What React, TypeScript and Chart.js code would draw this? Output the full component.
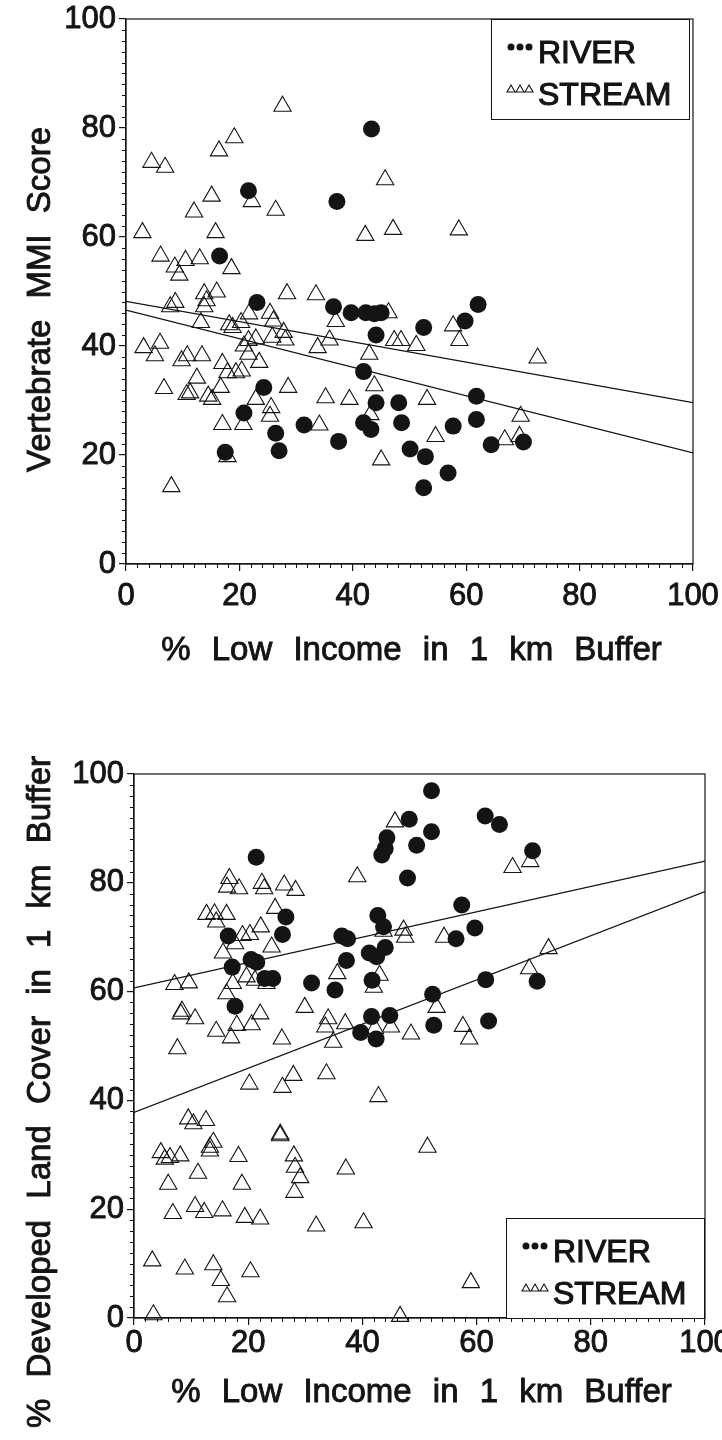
import React, { useEffect, useRef } from 'react';
import { Chart, registerables } from 'chart.js';

Chart.register(...registerables);

const FONT = '"Liberation Sans", Arial, Helvetica, sans-serif';
const INK = '#141414';

// ---- Chart 1: Vertebrate MMI Score vs % Low Income ----
const riverX1 = [43.3, 21.6, 37.2, 16.5, 23.1, 36.6, 39.7, 42.3, 43.8, 45.0, 52.5, 44.1, 41.9, 24.3, 44.1, 48.1, 20.8, 31.4, 41.9, 43.2, 48.6, 26.4, 37.5, 50.1, 17.5, 27.0, 52.8, 62.1, 59.8, 61.8, 61.8, 57.7, 64.4, 70.1, 56.8, 52.5];
const riverY1 = [79.8, 68.5, 66.5, 56.5, 48.0, 47.2, 46.1, 46.1, 45.9, 46.1, 43.4, 42.0, 35.3, 32.4, 29.6, 29.6, 27.7, 25.5, 25.9, 24.7, 25.9, 24.0, 22.5, 21.1, 20.5, 20.8, 19.7, 47.6, 44.6, 30.8, 26.5, 25.3, 21.9, 22.4, 16.7, 14.0];
const streamX1 = [27.6, 19.1, 16.4, 45.7, 4.5, 6.9, 22.2, 15.1, 12.0, 26.4, 2.9, 15.8, 42.2, 47.1, 58.7, 6.1, 8.6, 9.4, 10.5, 13.0, 18.6, 8.7, 7.8, 13.8, 16.0, 14.2, 13.8, 28.4, 33.5, 37.0, 46.3, 13.2, 21.7, 25.4, 26.0, 20.3, 18.2, 18.8, 27.8, 28.1, 25.8, 22.9, 21.6, 35.9, 33.8, 47.3, 48.5, 51.2, 3.1, 6.0, 5.1, 9.8, 10.8, 13.4, 20.8, 21.6, 17.0, 23.5, 17.9, 19.4, 20.4, 42.9, 12.5, 6.7, 10.7, 11.3, 14.5, 15.2, 16.7, 22.9, 28.6, 35.2, 39.4, 43.8, 53.1, 43.1, 25.6, 25.4, 17.0, 20.7, 34.1, 17.9, 45.0, 8.0, 57.7, 58.8, 72.6, 69.6, 54.6, 66.8, 69.4];
const streamY1 = [84.0, 78.2, 75.8, 70.5, 73.7, 72.8, 66.5, 67.5, 64.6, 64.9, 60.8, 60.8, 60.3, 61.4, 61.3, 56.5, 54.5, 53.0, 55.7, 56.0, 54.2, 48.0, 47.2, 49.6, 49.9, 48.3, 47.2, 49.6, 49.4, 44.5, 46.1, 44.3, 45.9, 46.0, 44.6, 44.3, 43.9, 43.4, 42.5, 41.1, 41.6, 41.3, 41.0, 41.1, 39.7, 41.0, 41.0, 40.1, 39.7, 40.5, 38.2, 37.3, 38.2, 38.2, 40.0, 38.5, 36.8, 37.0, 35.1, 35.1, 35.4, 38.5, 34.1, 32.2, 31.1, 31.4, 30.8, 30.2, 32.4, 30.2, 32.4, 30.5, 30.2, 32.7, 30.2, 27.4, 28.7, 27.1, 25.6, 25.6, 25.5, 19.7, 19.1, 14.2, 43.7, 41.0, 37.8, 27.1, 23.4, 22.8, 23.4];
const fitX = [0, 100];
const fitUpperY1 = [48.2, 29.6];
const fitLowerY1 = [46.6, 20.4];

// ---- Chart 2: % Developed Land Cover vs % Low Income ----
const riverX2 = [48.2, 44.3, 49.5, 44.0, 43.4, 21.4, 47.9, 26.6, 26.0, 16.5, 20.5, 21.5, 17.2, 22.9, 24.3, 17.7, 36.4, 37.4, 42.7, 43.7, 44.0, 41.2, 42.5, 37.2, 41.7, 31.1, 35.2, 41.6, 44.8, 39.7, 42.4, 52.1, 52.1, 61.5, 64.0, 69.8, 57.4, 59.7, 56.4, 70.6, 61.6, 52.3, 52.5, 62.1];
const riverY2 = [91.7, 88.3, 86.9, 86.3, 85.1, 84.7, 80.9, 73.7, 70.5, 70.2, 65.9, 65.4, 64.5, 62.4, 62.4, 57.3, 70.2, 69.7, 74.0, 71.9, 68.1, 67.1, 66.4, 65.7, 62.1, 61.6, 60.3, 55.4, 55.6, 52.5, 51.3, 96.9, 89.4, 92.3, 90.7, 85.9, 75.9, 71.7, 69.7, 61.9, 62.2, 59.5, 53.8, 54.6];
const streamX2 = [45.7, 39.1, 16.7, 16.3, 18.4, 22.4, 22.8, 26.3, 28.3, 12.7, 14.1, 16.2, 14.4, 24.7, 19.0, 20.3, 22.2, 17.7, 24.1, 15.6, 19.7, 21.2, 23.2, 7.1, 9.6, 17.3, 16.2, 8.4, 8.2, 10.7, 18.0, 22.1, 20.6, 14.4, 17.0, 25.9, 7.6, 43.7, 47.2, 47.5, 35.6, 43.0, 42.0, 29.9, 34.0, 33.5, 37.0, 42.2, 45.0, 34.9, 48.5, 69.4, 66.3, 54.3, 72.6, 69.2, 53.0, 57.6, 58.7, 20.2, 26.0, 27.9, 33.7, 42.8, 9.5, 10.4, 12.6, 25.6, 25.6, 13.9, 13.3, 13.3, 4.7, 5.4, 6.3, 8.1, 18.3, 28.0, 28.2, 29.1, 28.1, 37.1, 11.2, 6.0, 18.9, 6.8, 10.7, 12.3, 15.5, 19.4, 22.1, 31.9, 40.2, 3.2, 8.9, 13.9, 15.2, 16.3, 20.4, 3.4, 46.6, 59.0, 51.4];
const streamY2 = [91.2, 81.1, 80.8, 79.2, 78.9, 79.9, 78.9, 79.6, 78.6, 74.2, 74.3, 74.2, 72.8, 75.3, 70.3, 70.5, 71.9, 68.8, 68.2, 67.1, 62.7, 62.1, 61.5, 61.3, 61.6, 61.5, 59.6, 56.4, 55.9, 55.0, 53.8, 55.9, 53.9, 52.7, 51.5, 51.3, 49.5, 71.1, 71.3, 70.0, 63.3, 63.0, 60.8, 57.1, 55.0, 53.5, 54.1, 53.2, 53.5, 50.7, 52.2, 83.9, 82.8, 70.0, 67.9, 64.2, 57.1, 53.6, 51.3, 43.0, 42.4, 44.6, 44.9, 40.7, 36.6, 35.7, 36.3, 33.5, 33.8, 32.3, 31.4, 30.7, 30.4, 29.2, 29.5, 29.8, 29.7, 29.8, 27.7, 25.8, 23.1, 27.4, 26.6, 24.6, 24.6, 19.2, 20.5, 19.4, 19.7, 18.5, 18.2, 16.9, 17.5, 10.5, 9.0, 9.8, 6.9, 3.9, 8.5, 0.6, 0.3, 6.5, 31.4];
const fitUpperY2 = [60.7, 84.0];
const fitLowerY2 = [37.8, 78.4];

const AXIS_MIN = 0;
const AXIS_MAX = 100;
const MAJOR_STEP = 20;
const MINOR_STEP = 2;
const SERIES_NAMES = ['RIVER', 'STREAM'];
const X_TITLE = '% Low Income in 1 km Buffer';
const Y_TITLE_1 = 'Vertebrate MMI Score';
const Y_TITLE_2 = '% Developed Land Cover in 1 km Buffer';

const TITLE_SIZE = 33;
const TICK_SIZE = 31;
const LEGEND_SIZE = 32;
const WORD_SPACING = '12px';
const TEXT_STROKE = 0.9;

const pts = (xs: number[], ys: number[]) => xs.map((x, i) => ({ x, y: ys[i] }));

function strokedText(ctx: CanvasRenderingContext2D, text: string, x: number, y: number) {
  ctx.fillText(text, x, y);
  ctx.strokeText(text, x, y);
}

const framePlugin = {
  id: 'frameMinor',
  afterDraw(chart: any) {
    const { ctx, chartArea: ca, scales } = chart;
    ctx.save();
    ctx.strokeStyle = INK;
    ctx.lineWidth = 1.2;
    ctx.strokeRect(ca.left, ca.top, ca.right - ca.left, ca.bottom - ca.top);
    ctx.lineWidth = 1;
    ctx.beginPath();
    for (let v = AXIS_MIN; v <= AXIS_MAX; v += MINOR_STEP) {
      if (v % MAJOR_STEP === 0) continue;
      const px = Math.round(scales.x.getPixelForValue(v)) + 0.5;
      ctx.moveTo(px, ca.bottom);
      ctx.lineTo(px, ca.bottom + 4);
      const py = Math.round(scales.y.getPixelForValue(v)) + 0.5;
      ctx.moveTo(ca.left, py);
      ctx.lineTo(ca.left - 4, py);
    }
    ctx.stroke();
    ctx.restore();
  },
};

const axisTitlePlugin = {
  id: 'axisTitles',
  afterDraw(chart: any, _args: any, opts: any) {
    const { ctx, chartArea: ca } = chart;
    ctx.save();
    ctx.font = `${TITLE_SIZE}px ${FONT}`;
    ctx.fillStyle = INK;
    ctx.strokeStyle = INK;
    ctx.lineWidth = TEXT_STROKE;
    ctx.textAlign = 'center';
    ctx.textBaseline = 'middle';
    (ctx as any).wordSpacing = WORD_SPACING;
    strokedText(ctx, opts.xText, (ca.left + ca.right) / 2 + 2, ca.bottom + opts.xDy);
    ctx.translate(opts.yX, (ca.top + ca.bottom) / 2 + opts.yDy);
    ctx.rotate(-Math.PI / 2);
    strokedText(ctx, opts.yText, 0, 0);
    ctx.restore();
  },
};

const legendPlugin = {
  id: 'boxLegend',
  afterDraw(chart: any, _args: any, opts: any) {
    const { ctx, chartArea: ca } = chart;
    const w = 198;
    const h = 100;
    const left = ca.right - opts.insetRight - w;
    const top = opts.corner === 'top' ? ca.top + opts.insetY : ca.bottom - opts.insetY - h;
    ctx.save();
    ctx.fillStyle = '#ffffff';
    ctx.fillRect(left, top, w, h);
    ctx.strokeStyle = INK;
    ctx.lineWidth = 1;
    ctx.strokeRect(left + 0.5, top + 0.5, w, h);
    ctx.font = `${LEGEND_SIZE}px ${FONT}`;
    ctx.textAlign = 'left';
    ctx.textBaseline = 'alphabetic';
    const series = chart.data.datasets.filter((d: any) => SERIES_NAMES.includes(d.label));
    series.forEach((d: any, r: number) => {
      const base = top + 44 + r * 42;
      const sy = base - 16;
      for (let i = 0; i < 3; i++) {
        const sx = left + 20 + i * 9;
        ctx.beginPath();
        if (d.pointStyle === 'circle') {
          ctx.fillStyle = INK;
          ctx.arc(sx, sy, 3.5, 0, Math.PI * 2);
          ctx.fill();
        } else {
          ctx.strokeStyle = INK;
          ctx.lineWidth = 1.1;
          ctx.moveTo(sx, sy - 4);
          ctx.lineTo(sx + 4, sy + 3);
          ctx.lineTo(sx - 4, sy + 3);
          ctx.closePath();
          ctx.stroke();
        }
      }
      ctx.fillStyle = INK;
      ctx.strokeStyle = INK;
      ctx.lineWidth = TEXT_STROKE + 0.2;
      strokedText(ctx, d.label, left + 47, base);
    });
    ctx.restore();
  },
};

type PanelProps = {
  top: number;
  riverX: number[];
  riverY: number[];
  streamX: number[];
  streamY: number[];
  fitA: number[];
  fitB: number[];
  yTitle: string;
  area: { left: number; right: number; top: number; bottom: number };
  xTickPad: number;
  xTitleDy: number;
  yTitleDy: number;
  legendCorner: 'top' | 'bottom';
  legendInsetRight: number;
  legendInsetY: number;
};

const W = 722;
const H = 720;

function Panel(p: PanelProps) {
  const ref = useRef<HTMLCanvasElement | null>(null);
  useEffect(() => {
    if (!ref.current) return;
    const tickFont = { family: FONT, size: TICK_SIZE };
    const chart = new Chart(ref.current, {
      type: 'scatter',
      data: {
        datasets: [
          {
            label: SERIES_NAMES[0],
            data: pts(p.riverX, p.riverY),
            pointStyle: 'circle',
            pointRadius: 8.5,
            backgroundColor: INK,
            borderColor: INK,
            borderWidth: 0,
            clip: false,
          } as any,
          {
            label: SERIES_NAMES[1],
            data: pts(p.streamX, p.streamY),
            pointStyle: 'triangle',
            pointRadius: 10,
            backgroundColor: 'rgba(0,0,0,0)',
            borderColor: INK,
            borderWidth: 1.1,
            clip: false,
          } as any,
          {
            label: 'fitA',
            data: pts(fitX, p.fitA),
            showLine: true,
            pointRadius: 0,
            borderColor: INK,
            borderWidth: 1.2,
            fill: false,
          } as any,
          {
            label: 'fitB',
            data: pts(fitX, p.fitB),
            showLine: true,
            pointRadius: 0,
            borderColor: INK,
            borderWidth: 1.2,
            fill: false,
          } as any,
        ],
      },
      options: {
        responsive: false,
        animation: false,
        events: [],
        layout: {
          padding: { left: 0, top: p.area.top, right: W - p.area.right, bottom: 0 },
        },
        plugins: {
          legend: { display: false },
          tooltip: { enabled: false },
          axisTitles: { xText: X_TITLE, xDy: p.xTitleDy, yText: p.yTitle, yX: 41, yDy: p.yTitleDy },
          boxLegend: { corner: p.legendCorner, insetRight: p.legendInsetRight, insetY: p.legendInsetY },
        } as any,
        scales: {
          x: {
            type: 'linear',
            min: AXIS_MIN,
            max: AXIS_MAX,
            ticks: {
              stepSize: MAJOR_STEP,
              font: tickFont,
              color: INK,
              padding: p.xTickPad,
              maxRotation: 0,
              autoSkip: false,
              textStrokeColor: INK,
              textStrokeWidth: TEXT_STROKE,
            },
            grid: { drawOnChartArea: false, drawTicks: true, tickLength: 7, color: INK, lineWidth: 1.2 },
            border: { display: true, color: INK, width: 1.2 },
            title: { display: false },
            afterFit: (s: any) => {
              s.height = H - p.area.bottom;
              s.paddingLeft = 0;
              s.paddingRight = 0;
            },
          },
          y: {
            type: 'linear',
            min: AXIS_MIN,
            max: AXIS_MAX,
            ticks: {
              stepSize: MAJOR_STEP,
              font: tickFont,
              color: INK,
              padding: 3,
              autoSkip: false,
              textStrokeColor: INK,
              textStrokeWidth: TEXT_STROKE,
            },
            grid: { drawOnChartArea: false, drawTicks: true, tickLength: 7, color: INK, lineWidth: 1.2 },
            border: { display: true, color: INK, width: 1.2 },
            title: { display: false },
            afterFit: (s: any) => {
              s.width = p.area.left;
              s.paddingTop = 0;
              s.paddingBottom = 0;
            },
          },
        },
      } as any,
      plugins: [framePlugin, axisTitlePlugin, legendPlugin] as any,
    });
    return () => chart.destroy();
  }, []);
  return (
    <div style={{ position: 'absolute', left: 0, top: p.top, width: W, height: H }}>
      <canvas ref={ref} width={W} height={H} style={{ display: 'block', width: W, height: H }} />
    </div>
  );
}

export default function App() {
  return (
    <div style={{ position: 'absolute', left: 0, top: 0, width: W, height: 1440, background: '#fff' }}>
      <Panel
        top={0}
        riverX={riverX1}
        riverY={riverY1}
        streamX={streamX1}
        streamY={streamY1}
        fitA={fitUpperY1}
        fitB={fitLowerY1}
        yTitle={Y_TITLE_1}
        area={{ left: 126, right: 693, top: 19, bottom: 564 }}
        xTickPad={7}
        xTitleDy={87}
        yTitleDy={8}
        legendCorner="top"
        legendInsetRight={4}
        legendInsetY={0}
      />
      <Panel
        top={720}
        riverX={riverX2}
        riverY={riverY2}
        streamX={streamX2}
        streamY={streamY2}
        fitA={fitUpperY2}
        fitB={fitLowerY2}
        yTitle={Y_TITLE_2}
        area={{ left: 134, right: 705, top: 54, bottom: 598 }}
        xTickPad={0}
        xTitleDy={75}
        yTitleDy={46}
        legendCorner="bottom"
        legendInsetRight={1}
        legendInsetY={0}
      />
    </div>
  );
}
